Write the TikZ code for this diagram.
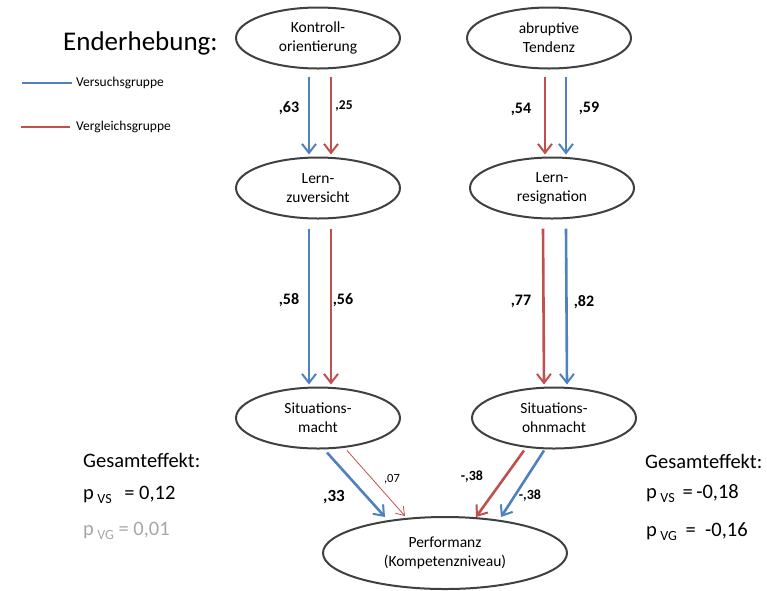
\documentclass[tikz,border=0pt]{standalone}
\usepackage{fontspec}
\setmainfont{Carlito}
\usetikzlibrary{shapes.geometric,arrows.meta}
\definecolor{vsblue}{RGB}{79,129,189}
\definecolor{vgred}{RGB}{192,80,77}
\definecolor{ggray}{RGB}{166,166,166}
\begin{document}
\begin{tikzpicture}[x=1pt,y=-1pt,
  latent/.style={ellipse,draw=black!75,line width=2pt,minimum width=164pt,minimum height=61pt,inner sep=0pt,align=center,font=\fontsize{15.5}{19}\selectfont},
  thickarr/.style={line width=2.6pt,-{Straight Barb[length=9pt,width=14pt,line width=2pt]}},
  thinarr/.style={line width=0.8pt,-{Straight Barb[length=8pt,width=11pt,line width=0.8pt]}},
  coef/.style={font=\fontsize{16}{18}\selectfont\bfseries,inner sep=1pt},
  big/.style={font=\fontsize{20.5}{24}\selectfont,anchor=west,inner sep=0pt}
]
\useasboundingbox (0,0) rectangle (767,590);
\node[font=\fontsize{27}{30}\selectfont,anchor=west,inner sep=0pt] (title) at (63,43) {Enderhebung:};
% legend
\coordinate (l1a) at (22,83); \coordinate (l1b) at (72,83);
\coordinate (l2a) at (21,127); \coordinate (l2b) at (70,127);
\draw[vsblue,line width=2.2pt] (l1a) -- (l1b);
\draw[vgred,line width=2.2pt] (l2a) -- (l2b);
\node[anchor=west,font=\fontsize{13.5}{15}\selectfont,inner sep=0pt] (leg1) at (76,83) {Versuchsgruppe};
\node[anchor=west,font=\fontsize{13.5}{15}\selectfont,inner sep=0pt] (leg2) at (76,127) {Vergleichsgruppe};
% nodes
\node[latent] (ko) at (318,38) {Kontroll-\\orientierung};
\node[latent] (ab) at (549,38) {abruptive\\Tendenz};
\node[latent] (lz) at (318,188) {Lern-\\zuversicht};
\node[latent] (lr) at (552,188) {Lern-\\resignation};
\node[latent] (sm) at (318,418) {Situations-\\macht};
\node[latent] (so) at (554,418) {Situations-\\ohnmacht};
\node[latent,minimum width=244pt,minimum height=72pt] (pf) at (445,553) {Performanz\\(Kompetenzniveau)};
% arrows top-left
\draw[thickarr,vsblue] ([xshift=-9pt,yshift=-7pt]ko.south) -- ([xshift=-9pt,yshift=2pt]lz.north);
\draw[thickarr,vgred] ([xshift=13pt,yshift=-7pt]ko.south) -- ([xshift=13pt,yshift=2pt]lz.north);
\node[coef] (c63) at (289,108) {,63};
\node[coef,font=\fontsize{13.5}{15}\selectfont\bfseries] (c25) at (344,106) {,25};
% arrows top-right
\draw[thickarr,vgred] ([xshift=-4pt,yshift=-7pt]ab.south) -- ([xshift=-7pt,yshift=2pt]lr.north);
\draw[thickarr,vsblue] ([xshift=17pt,yshift=-7pt]ab.south) -- ([xshift=14pt,yshift=2pt]lr.north);
\node[coef] (c54) at (521,109) {,54};
\node[coef] (c59) at (589,108) {,59};
% middle left
\draw[thickarr,vsblue] ([xshift=-9pt,yshift=-9pt]lz.south) -- ([xshift=-9pt,yshift=2pt]sm.north);
\draw[thickarr,vgred] ([xshift=13pt,yshift=-9pt]lz.south) -- ([xshift=13pt,yshift=2pt]sm.north);
\node[coef] (c58) at (289,300) {,58};
\node[coef] (c56) at (343,300) {,56};
% middle right
\draw[thickarr,vgred] ([xshift=-9pt,yshift=-9pt]lr.south) -- ([xshift=-10pt,yshift=2pt]so.north);
\draw[thickarr,vsblue] ([xshift=14pt,yshift=-9pt]lr.south) -- ([xshift=13pt,yshift=2pt]so.north);
\node[coef] (c77) at (521,301) {,77};
\node[coef] (c82) at (584,302) {,82};
% bottom
\draw[thickarr,vsblue] ([xshift=9pt,yshift=-3pt]sm.south) -- ([xshift=-60pt,yshift=-1pt]pf.north);
\draw[thinarr,vgred] ([xshift=29pt,yshift=-1pt]sm.south) -- ([xshift=-40pt,yshift=0pt]pf.north);
\draw[thickarr,vgred] ([xshift=-30pt,yshift=-1pt]so.south) -- ([xshift=31pt,yshift=-1pt]pf.north);
\draw[thickarr,vsblue] ([xshift=-10pt,yshift=-1pt]so.south) -- ([xshift=56pt,yshift=-1pt]pf.north);
\node[coef,font=\fontsize{17}{19}\selectfont\bfseries] (c33) at (334,497) {,33};
\node[font=\fontsize{12.5}{14}\selectfont,inner sep=1pt] (c07) at (392,479) {,07};
\node[coef,font=\fontsize{14}{16}\selectfont\bfseries] (c38a) at (472,477) {-,38};
\node[coef,font=\fontsize{14}{16}\selectfont\bfseries] (c38b) at (530,496) {-,38};
% totals left
\node[big] (gl) at (83,460) {Gesamteffekt:};
\node[big] (pl1) at (83,495) {p\,\raisebox{-4pt}{\fontsize{14}{14}\selectfont VS}\hspace{8pt} = 0,12};
\node[big,text=ggray] (pl2) at (83,531) {p\,\raisebox{-4pt}{\fontsize{14}{14}\selectfont VG} = 0,01};
% totals right
\node[big] (gr) at (645,461) {Gesamteffekt:};
\node[big] (pr1) at (646,494) {p\,\raisebox{-4pt}{\fontsize{14}{14}\selectfont VS}\hspace{8pt}=\,-0,18};
\node[big] (pr2) at (646,532) {p\,\raisebox{-4pt}{\fontsize{14}{14}\selectfont VG}\hspace{4pt} = \ -0,16};
\end{tikzpicture}
\end{document}
